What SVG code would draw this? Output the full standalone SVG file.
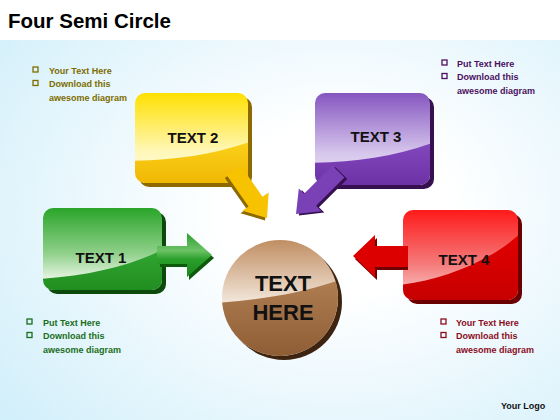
<svg xmlns="http://www.w3.org/2000/svg" width="560" height="420" viewBox="0 0 560 420">
<style>
.lbl{font-family:"Liberation Sans",Arial,sans-serif;font-weight:bold;fill:#111;text-anchor:middle}
.bt{font-family:"Liberation Sans",Arial,sans-serif;font-weight:bold;font-size:9px}
.cb{fill:none;stroke-width:1.3}
</style>
<defs>
<radialGradient id="bg" cx="0.6" cy="0.5" r="0.8">
<stop offset="0.25" stop-color="#ffffff"/><stop offset="1" stop-color="#cfeefa"/>
</radialGradient>
<linearGradient id="yTop" x1="0" y1="0" x2="0" y2="1"><stop offset="0" stop-color="#ffe000"/><stop offset="0.65" stop-color="#fff7b8"/><stop offset="1" stop-color="#fffde8"/></linearGradient>
<linearGradient id="yBot" x1="0" y1="0" x2="0" y2="1"><stop offset="0" stop-color="#fbd21a"/><stop offset="1" stop-color="#efb300"/></linearGradient>
<linearGradient id="pTop" x1="0" y1="0" x2="0" y2="1"><stop offset="0" stop-color="#8656c0"/><stop offset="0.65" stop-color="#d6c6ec"/><stop offset="1" stop-color="#eee6f8"/></linearGradient>
<linearGradient id="pBot" x1="0" y1="0" x2="0" y2="1"><stop offset="0" stop-color="#8348bd"/><stop offset="1" stop-color="#6a2fa3"/></linearGradient>
<linearGradient id="gTop" x1="0" y1="0" x2="0" y2="1"><stop offset="0" stop-color="#2aa52a"/><stop offset="0.55" stop-color="#8fd08a"/><stop offset="0.85" stop-color="#e2f3de"/></linearGradient>
<linearGradient id="gBot" x1="0" y1="0" x2="0" y2="1"><stop offset="0" stop-color="#35a935"/><stop offset="1" stop-color="#1d8a1d"/></linearGradient>
<linearGradient id="rTop" x1="0" y1="0" x2="0" y2="1"><stop offset="0" stop-color="#ff1a1a"/><stop offset="0.6" stop-color="#f57a7a"/><stop offset="1" stop-color="#fbd0d0"/></linearGradient>
<linearGradient id="rBot" x1="0" y1="0" x2="0" y2="1"><stop offset="0" stop-color="#e30000"/><stop offset="1" stop-color="#c40000"/></linearGradient>
<linearGradient id="cTop" x1="0" y1="0" x2="0" y2="1"><stop offset="0" stop-color="#c08e62"/><stop offset="0.5" stop-color="#efe0d2"/><stop offset="0.6" stop-color="#faf4ee"/></linearGradient>
<linearGradient id="cBot" x1="0" y1="0" x2="0" y2="1"><stop offset="0" stop-color="#b07e52"/><stop offset="1" stop-color="#8d5c34"/></linearGradient>
<linearGradient id="gArr" x1="0" y1="0" x2="0" y2="1"><stop offset="0" stop-color="#2f9f2f"/><stop offset="0.4" stop-color="#6cc266"/><stop offset="0.6" stop-color="#2a9f2a"/><stop offset="1" stop-color="#1b851b"/></linearGradient>
<clipPath id="cY"><rect x="135" y="93" width="113" height="90" rx="10"/></clipPath>
<clipPath id="cP"><rect x="315" y="93" width="115" height="92" rx="10"/></clipPath>
<clipPath id="cG"><rect x="43" y="208" width="119" height="82" rx="10"/></clipPath>
<clipPath id="cR"><rect x="403" y="210" width="115" height="90" rx="10"/></clipPath>
<clipPath id="cC"><circle cx="280" cy="298" r="58"/></clipPath>
</defs>

<rect width="560" height="420" fill="url(#bg)"/>
<rect width="560" height="40" fill="#ffffff"/>
<text x="8" y="28" font-family="Liberation Sans, Arial, sans-serif" font-weight="bold" font-size="20.5" fill="#000">Four Semi Circle</text>

<g id="node-text2">
<rect x="139" y="97" width="113" height="90" rx="10" fill="#8c6a00"/>
<rect x="135" y="93" width="113" height="90" rx="10" fill="url(#yTop)"/>
<path clip-path="url(#cY)" d="M130,161 C175,160 215,155 255,140 L255,190 L130,190 Z" fill="url(#yBot)"/>
<text class="lbl" x="193" y="143" font-size="15">TEXT 2</text>
</g>

<g id="node-text3">
<rect x="319" y="97" width="115" height="92" rx="10" fill="#36104f"/>
<rect x="315" y="93" width="115" height="92" rx="10" fill="url(#pTop)"/>
<path clip-path="url(#cP)" d="M310,163 C355,162 395,157 435,142 L435,190 L310,190 Z" fill="url(#pBot)"/>
<text class="lbl" x="376" y="142" font-size="15">TEXT 3</text>
</g>

<g id="node-text1">
<rect x="47" y="212" width="119" height="82" rx="10" fill="#0b4a0b"/>
<rect x="43" y="208" width="119" height="82" rx="10" fill="url(#gTop)"/>
<path clip-path="url(#cG)" d="M38,279 C90,276 135,265 170,246 L170,295 L38,295 Z" fill="url(#gBot)"/>
<text class="lbl" x="101" y="263" font-size="15">TEXT 1</text>
</g>

<g id="node-text4">
<rect x="407" y="214" width="115" height="90" rx="10" fill="#6a0000"/>
<rect x="403" y="210" width="115" height="90" rx="10" fill="url(#rTop)"/>
<path clip-path="url(#cR)" d="M398,285 C440,281 490,262 522,232 L522,305 L398,305 Z" fill="url(#rBot)"/>
<text class="lbl" x="464" y="265" font-size="15">TEXT 4</text>
</g>

<g id="node-center">
<circle cx="284" cy="302" r="58" fill="#3d2410"/>
<circle cx="280" cy="298" r="58" fill="url(#cTop)"/>
<path clip-path="url(#cC)" d="M215,303 C260,300 305,293 345,278 L345,360 L215,360 Z" fill="url(#cBot)"/>
<text class="lbl" x="283" y="291" font-size="22">TEXT</text>
<text class="lbl" x="283" y="320" font-size="22">HERE</text>
</g>

<g id="connectors">
<g transform="translate(267,218) rotate(55)">
<path transform="translate(1,3)" d="M-58,-8.5 L-20,-8.5 L-20,-16 L0,0 L-20,16 L-20,8.5 L-58,8.5 Z" fill="#8c6a00"/>
<path d="M-58,-8.5 L-20,-8.5 L-20,-16 L0,0 L-20,16 L-20,8.5 L-58,8.5 Z" fill="#f7c200"/>
</g>
<g transform="translate(296,214) rotate(135)">
<path transform="translate(-1,-3)" d="M-60,-8.5 L-20,-8.5 L-20,-16 L0,0 L-20,16 L-20,8.5 L-60,8.5 Z" fill="#36104f"/>
<path d="M-60,-8.5 L-20,-8.5 L-20,-16 L0,0 L-20,16 L-20,8.5 L-60,8.5 Z" fill="#7a40b5"/>
</g>
<path d="M160,249 L189,249 L189,236 L214,258 L189,280 L189,267 L160,267 Z" fill="#0d5a0d"/>
<path d="M157,246 L187,246 L187,233 L212,255 L187,277 L187,264 L157,264 Z" fill="url(#gArr)"/>
<path d="M408,249 L377,249 L377,238 L355,259 L377,280 L377,270 L408,270 Z" fill="#700000"/>
<path d="M408,246 L375,246 L375,235 L353,256 L375,277 L375,267 L408,267 Z" fill="#dd0000"/>
</g>

<g id="notes-top-left" fill="#7d6c00">
<rect class="cb" x="33" y="67" width="5" height="5" stroke="#7d6c00"/>
<rect class="cb" x="33" y="80.5" width="5" height="5" stroke="#7d6c00"/>
<text class="bt" x="49" y="73.5">Your Text Here</text>
<text class="bt" x="49" y="87">Download this</text>
<text class="bt" x="49" y="100.5">awesome diagram</text>
</g>
<g id="notes-top-right" fill="#4b1060">
<rect class="cb" x="442" y="60" width="5" height="5" stroke="#4b1060"/>
<rect class="cb" x="442" y="73.5" width="5" height="5" stroke="#4b1060"/>
<text class="bt" x="457" y="66.5">Put Text Here</text>
<text class="bt" x="457" y="80">Download this</text>
<text class="bt" x="457" y="93.5">awesome diagram</text>
</g>
<g id="notes-bottom-left" fill="#1a6e1a">
<rect class="cb" x="27" y="319" width="5" height="5" stroke="#1a6e1a"/>
<rect class="cb" x="27" y="332.5" width="5" height="5" stroke="#1a6e1a"/>
<text class="bt" x="43" y="325.5">Put Text Here</text>
<text class="bt" x="43" y="339">Download this</text>
<text class="bt" x="43" y="352.5">awesome diagram</text>
</g>
<g id="notes-bottom-right" fill="#8b0c1c">
<rect class="cb" x="441" y="319" width="5" height="5" stroke="#8b0c1c"/>
<rect class="cb" x="441" y="332.5" width="5" height="5" stroke="#8b0c1c"/>
<text class="bt" x="456" y="325.5">Your Text Here</text>
<text class="bt" x="456" y="339">Download this</text>
<text class="bt" x="456" y="352.5">awesome diagram</text>
</g>
<text class="bt" x="501" y="409" fill="#111">Your Logo</text>
</svg>
